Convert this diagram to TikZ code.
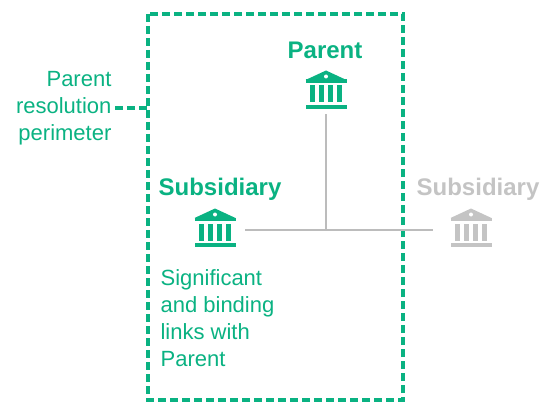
\documentclass[tikz,border=0pt]{standalone}
\usepackage{fontspec}
\setmainfont{Liberation Sans}
\usetikzlibrary{positioning}
\definecolor{resgreen}{RGB}{10,178,130}
\definecolor{linkgrey}{RGB}{188,188,188}
\definecolor{fadegrey}{RGB}{196,196,196}
\def\bank(#1)[#2]{%
  \begin{scope}[shift={(#1)}]
    \fill[#2] (-20.5,-10) -- (0,-19.5) -- (20.5,-10) -- cycle;
    \fill[#2] (-20.5,-10.5) rectangle (20.5,-7);
    \fill[white] (0,-13.5) circle (2);
    \foreach \cx in {-13.5,-4.5,4.5,13.5} \fill[#2] (\cx-2.4,-4.5) rectangle (\cx+2.4,12.5);
    \fill[#2] (-20.5,15) rectangle (20.5,19);
  \end{scope}}
\tikzset{
  bankbox/.style={minimum width=31.5pt, minimum height=28.5pt, inner sep=0pt},
  perim/.style={draw=resgreen, line width=2.3pt, dash pattern=on 6pt off 3pt},
  link/.style={draw=linkgrey, line width=2.2pt},
  title/.style={font=\fontsize{18}{20}\selectfont\bfseries}
}

\begin{document}
\begin{tikzpicture}[x=0.75pt, y=-0.75pt]
  %%%%% START %%%%%
  \useasboundingbox (0,0) rectangle (543,403);

  \draw[perim] (148,14) rectangle (403,400);

  \node[bankbox] (parentbank) at (326,90) {};
  \node[bankbox] (subbank) at (215,228) {};
  \node[bankbox] (othbank) at (471,228) {};
  \bank(parentbank)[resgreen]
  \bank(subbank)[resgreen]
  \bank(othbank)[fadegrey]

  \node[title, text=resgreen] (parentlbl) at (325,50) {Parent};
  \node[title, text=resgreen] (sublbl) at (220,189) {Subsidiary};
  \node[title, text=fadegrey] (othlbl) at (478,189) {Subsidiary};

  \coordinate (junction) at (326,230);
  \draw[link, shorten <=3.75pt] (parentbank.south) -- (junction);
  \draw[link, shorten <=6.75pt, shorten >=12.75pt] (subbank.east |- junction) -- (othbank.west |- junction);

  \node[text=resgreen, align=right, anchor=east, inner sep=1pt, font=\fontsize{16.5}{20.25}\selectfont] (perimlbl) at (113,108) {Parent\\resolution\\perimeter};
  \coordinate (boxwest) at (148,108);
  \draw[perim, shorten <=1.5pt] (perimlbl.east) -- (boxwest);

  \node[text=resgreen, align=left, anchor=west, inner sep=1pt, font=\fontsize{16.5}{20.25}\selectfont] (linkslbl) at (159,318) {Significant\\and binding\\links with\\Parent};
  %%%%% END %%%%%
\end{tikzpicture}
\end{document}
